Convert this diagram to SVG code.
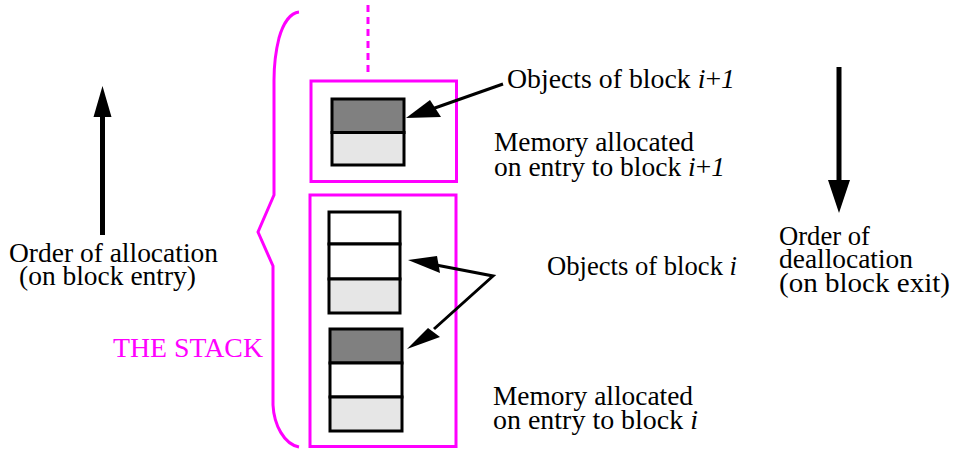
<svg xmlns="http://www.w3.org/2000/svg" width="953" height="450" viewBox="0 0 953 450">
<style>
text{font-family:"Liberation Serif","Times New Roman",serif;font-size:27px;fill:#000}
.mag{fill:none;stroke:#ff00ff;stroke-width:3}
.cell{stroke:#000;stroke-width:3}
.dark{fill:#808080}
.light{fill:#e6e6e6}
.white{fill:#fff}
.thin{stroke:#000;stroke-width:3;fill:none}
.thick{stroke:#000;stroke-width:5;fill:none}
.head{fill:#000;stroke:none}
.it{font-style:italic}
</style>
<rect width="953" height="450" fill="#fff"/>

<g id="stack-brace">
<path class="mag" d="M299,12 C290,13 283,24 279,38 C276,50 274,62 274,80 L274,195 L258,232 L273,266 L273,405 C274,425 284,444 299,447"/>
<line x1="368" y1="5" x2="368" y2="74" stroke="#ff00ff" stroke-width="3" stroke-dasharray="7 5"/>
<text x="113" y="357" textLength="150" lengthAdjust="spacingAndGlyphs" style="fill:#ff00ff">THE STACK</text>
</g>

<g id="block-i1-memory">
<rect class="mag" x="311" y="81" width="145.5" height="100.5"/>
<rect class="cell dark" x="332" y="99" width="72" height="33.5"/>
<rect class="cell light" x="332" y="132.5" width="72" height="32.5"/>
</g>

<g id="block-i-memory">
<rect class="mag" x="310" y="195" width="146" height="251.5"/>
<rect class="cell white" x="329" y="212" width="71" height="32"/>
<rect class="cell white" x="329" y="244" width="71" height="35"/>
<rect class="cell light" x="329" y="279" width="71" height="34"/>
<rect class="cell dark" x="330" y="329" width="72" height="34"/>
<rect class="cell white" x="330" y="363" width="72" height="34"/>
<rect class="cell light" x="330" y="397" width="72" height="34"/>
</g>

<g id="label-objects-i1"><text x="507" y="88" textLength="228" lengthAdjust="spacingAndGlyphs">Objects of block <tspan class="it">i</tspan>+<tspan class="it">1</tspan></text></g>
<g id="label-memory-i1"><text x="494" y="151" textLength="200" lengthAdjust="spacingAndGlyphs">Memory allocated</text><text x="494" y="176" textLength="231" lengthAdjust="spacingAndGlyphs">on entry to block <tspan class="it">i</tspan>+<tspan class="it">1</tspan></text></g>
<g id="label-objects-i"><text x="547" y="275" textLength="190" lengthAdjust="spacingAndGlyphs">Objects of block <tspan class="it">i</tspan></text></g>
<g id="label-memory-i"><text x="493" y="405" textLength="200" lengthAdjust="spacingAndGlyphs">Memory allocated</text><text x="493" y="429" textLength="205" lengthAdjust="spacingAndGlyphs">on entry to block <tspan class="it">i</tspan></text></g>
<g id="label-allocation"><text x="9" y="262" textLength="209" lengthAdjust="spacingAndGlyphs">Order of allocation</text><text x="19" y="285" textLength="177" lengthAdjust="spacingAndGlyphs">(on block entry)</text></g>
<g id="label-deallocation"><text x="779" y="245" textLength="91" lengthAdjust="spacingAndGlyphs">Order of</text><text x="779" y="268" textLength="134" lengthAdjust="spacingAndGlyphs">deallocation</text><text x="779" y="292" textLength="171" lengthAdjust="spacingAndGlyphs">(on block exit)</text></g>

<g id="connectors">
<line class="thick" x1="102.5" y1="235" x2="102.5" y2="112"/>
<polygon class="head" points="102.5,86 93.5,117 111.5,117"/>
<line class="thick" x1="839" y1="67" x2="839" y2="185"/>
<polygon class="head" points="839,213 828,180 850,180"/>
<line class="thin" x1="503" y1="84" x2="432" y2="109"/>
<polygon class="head" points="406,118 430,100 441,117"/>
<polyline class="thin" points="436,265 493,276 434,329"/>
<polygon class="head" points="408,260 437,256 440,273"/>
<polygon class="head" points="407,349 428,328 440,337"/>
</g>
</svg>
